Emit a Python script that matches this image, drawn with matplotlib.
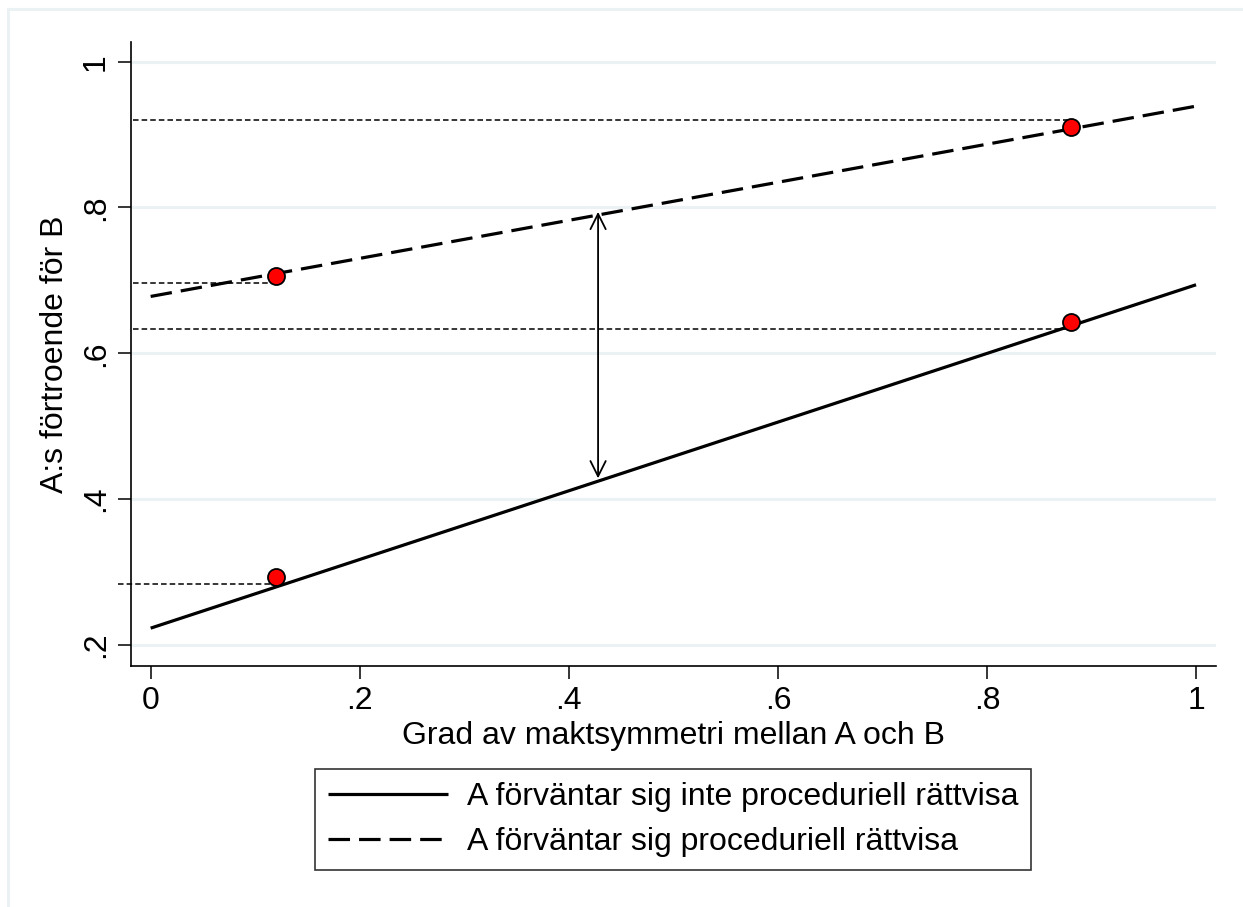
import matplotlib
matplotlib.use("Agg")
import matplotlib.pyplot as plt
from matplotlib.patches import Rectangle

plt.rcParams["font.family"] = ["Liberation Sans", "DejaVu Sans"]
plt.rcParams["lines.scale_dashes"] = False

# ----- data -----
X_END = [0, 1]
NO_PJ = [0.223, 0.694]      # A förväntar sig inte procedurell rättvisa
PJ = [0.678, 0.939]         # A förväntar sig procedurell rättvisa
DOT_X = [0.12, 0.88, 0.12, 0.88]
DOT_Y = [0.293, 0.643, 0.706, 0.910]
# horizontal reference lines: (y, x_start, x_end)
REF_Y = [0.283, 0.634, 0.696, 0.920]
REF_X0 = [-0.031, -0.017, -0.017, -0.017]
REF_X1 = [0.125, 0.88, 0.115, 0.88]
ARROW_X = 0.428
ARROW_Y = [0.4285, 0.794]
XTICKS = [0, 0.2, 0.4, 0.6, 0.8, 1]
XTICKLABELS = ["0", ".2", ".4", ".6", ".8", "1"]
YTICKS = [0.2, 0.4, 0.6, 0.8, 1]
YTICKLABELS = [".2", ".4", ".6", ".8", "1"]
LABELS = ["A förväntar sig inte proceduriell rättvisa", "A förväntar sig proceduriell rättvisa"]

FS = 23
W, H = 1243, 907
fig = plt.figure(figsize=(W / 100, H / 100), dpi=100)
# outer frame: only top and left edges are visible (image is cropped)
fig.patches.append(Rectangle((8 / W, -0.1), 1.2, 1.1 - 9 / H, transform=fig.transFigure,
                             fill=False, ec="#eaf2f3", lw=2.2, zorder=0))
ax = fig.add_axes([131 / W, 1 - 665.7 / H, (1216 - 131) / W, (665.7 - 42) / H])

for y in YTICKS:
    ax.axhline(y, color="#eaf2f3", lw=2.2, zorder=0)

for y, x0, x1 in zip(REF_Y, REF_X0, REF_X1):
    ax.plot([x0, x1], [y, y], color="black", lw=1.1, dashes=(4, 2.2), clip_on=False, zorder=2)

ax.plot(X_END, NO_PJ, color="black", lw=2.3, solid_capstyle="butt", zorder=3, label=LABELS[0])
ax.plot(X_END, PJ, color="black", lw=2.3, dashes=(15.5, 6.5), zorder=3, label=LABELS[1])
ax.scatter(DOT_X, DOT_Y, s=150, color="red", edgecolor="black", linewidth=1.3, zorder=4)

ax.annotate("", xy=(ARROW_X, ARROW_Y[1]), xytext=(ARROW_X, ARROW_Y[0]),
            arrowprops=dict(arrowstyle="<->,head_length=1.1,head_width=0.55", color="black", lw=1.3,
                            shrinkA=0, shrinkB=0), zorder=3)

ax.set_xlim(-0.0188, 1.0191)
ax.set_ylim(0.1715, 1.027)
ax.set_xticks(XTICKS)
ax.set_xticklabels(XTICKLABELS, fontsize=FS)
ax.set_yticks(YTICKS)
ax.set_yticklabels(YTICKLABELS, fontsize=FS, rotation=90, va="center")
ax.tick_params(length=9.5, width=1.1, pad=5)
for s in ["top", "right"]:
    ax.spines[s].set_visible(False)
for s in ["left", "bottom"]:
    ax.spines[s].set_linewidth(1.2)
ax.set_xlabel("Grad av maktsymmetri mellan A och B", fontsize=FS, labelpad=4)
ax.set_ylabel("A:s förtroende för B", fontsize=FS, labelpad=8)

leg = fig.legend(loc="center", bbox_to_anchor=((313 + 1033) / 2 / W, 1 - (767 + 872) / 2 / H),
                 fontsize=FS, frameon=True, fancybox=False, edgecolor="black", handlelength=3.75,
                 handletextpad=0.6, borderpad=0.4, labelspacing=0.48, borderaxespad=0)
leg.get_frame().set_linewidth(1.2)

fig.savefig("out.png", dpi=100, facecolor="white")
